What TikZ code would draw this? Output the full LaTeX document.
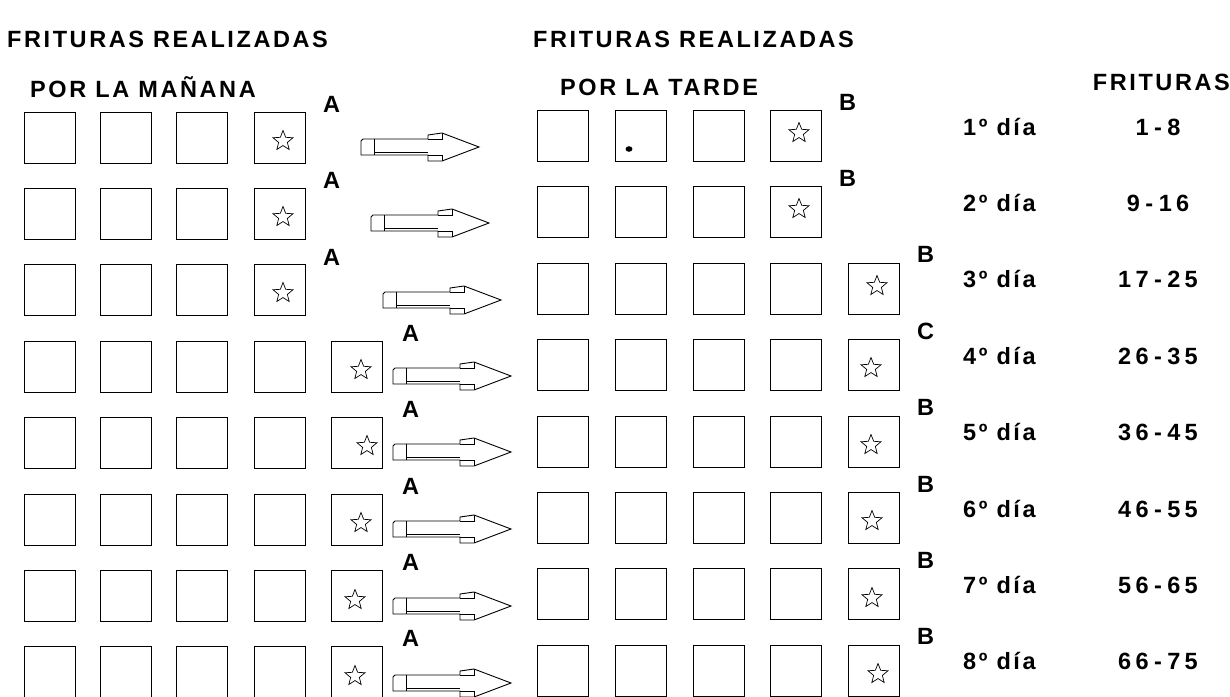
\documentclass[tikz,border=0pt]{standalone}
\usepackage{fontspec}
\setmainfont{Liberation Sans}[LetterSpace=11]
\newfontfamily\rangefont{Liberation Sans}[LetterSpace=18]
\usetikzlibrary{shapes.geometric}
\newcommand{\rng}[2]{{\rangefont\bfseries #1\hspace{5.5pt}-\hspace{5.5pt}#2}}
\begin{document}
\begin{tikzpicture}[x=1pt,y=-1pt,
  box/.style={draw, line width=0.9pt, minimum size=51pt, inner sep=0pt},
  starmark/.style={draw, star, star points=5, star point ratio=2.3, minimum size=21pt, inner sep=0pt, line width=0.7pt},
  lbl/.style={font=\fontsize{23.5}{28}\selectfont\bfseries, inner sep=0pt, anchor=base west},
  lble/.style={lbl, anchor=base east},
  lblc/.style={lbl, anchor=base},
  arr/.style={line width=0.9pt, line join=miter},
  fatarrow/.pic={
    \draw[arr] (0,-6) -- (2,-8) -- (67,-8) -- (67,-12) -- (81,-14) -- (118,0) -- (81,14) -- (67,14) -- (67,8) -- (0,8) -- cycle;
    \draw[arr] (13,-8) -- (13,8);
    \draw[arr] (13,5.5) -- (67,5.5);
    \draw[arr] (67,-8) -- (81,-8) -- (81,-14);
    \draw[arr] (67,8) -- (81,8) -- (81,14);
  }]
\useasboundingbox (0,0) rectangle (1230,696);
\fill[white] (0,0) rectangle (1230,696);

% headings
\node[lbl] (t1) at (7,47) {FRITURAS REALIZADAS};
\node[lbl] (t2) at (30,97) {POR LA MAÑANA};
\node[lbl] (t3) at (533,47) {FRITURAS REALIZADAS};
\node[lbl] (t4) at (560,95) {POR LA TARDE};
\node[lble] (t5) at (1230,90) {FRITURAS};

% boxes
\foreach \i in {1,...,8}{
  \pgfmathsetmacro{\yc}{137.5+76.4*(\i-1)}
  \pgfmathsetmacro{\yr}{136+76.4*(\i-1)}
  \foreach \xc [count=\j] in {49.5,126,202,279.5}{
    \node[box] (L\i-\j) at (\xc,\yc) {};
  }
  \foreach \xc [count=\j] in {563,640.5,718.5,796}{
    \node[box] (R\i-\j) at (\xc,\yr) {};
  }
  \ifnum\i>3 \node[box] (L\i-5) at (357,\yc) {}; \fi
  \ifnum\i>2 \node[box] (R\i-5) at (874,\yr) {}; \fi
}

% stars
\foreach \x/\y [count=\k] in {283/141,283/217,283/293,361/370,367/446,361/523,355/600,355/676}{
  \node[starmark] (sl\k) at (\x,\y) {};
}
\foreach \x/\y [count=\k] in {799/133,799/209,877/286,871/368,871/445,872/521,872/598,878/674}{
  \node[starmark] (sr\k) at (\x,\y) {};
}
\fill (629,149) ellipse (3.4pt and 2.8pt);

% arrows
\foreach \x/\y in {361/147,371/223,383/300,393/376,393/452,393/529,393/606,393/683}{
  \pic at (\x,\y) {fatarrow};
}

% A / B / C labels
\node[lbl] (a1) at (323,112) {A};
\node[lbl] (a2) at (323,188.5) {A};
\node[lbl] (a3) at (323,265) {A};
\foreach \k in {4,...,8}{
  \pgfmathsetmacro{\yy}{112+76.4*(\k-1)}
  \node[lbl] (a\k) at (402,\yy) {A};
}
\node[lbl] (b1) at (839,110) {B};
\node[lbl] (b2) at (839,186.4) {B};
\node[lbl] (b3) at (917,262.8) {B};
\node[lbl] (b4) at (917,339.2) {C};
\foreach \k in {5,...,8}{
  \pgfmathsetmacro{\yy}{110+76.4*(\k-1)}
  \node[lbl] (b\k) at (917,\yy) {B};
}

% day labels
\foreach \d/\ra/\rb [count=\k] in {1/1/8,2/9/16,3/17/25,4/26/35,5/36/45,6/46/55,7/56/65,8/66/75}{
  \pgfmathsetmacro{\yy}{135+76.4*(\k-1)}
  \node[lbl] (d\k) at (963,\yy) {\d º día};
  \node[lblc] (f\k) at (1158,\yy) {\rng{\ra}{\rb}};
}
\end{tikzpicture}
\end{document}
